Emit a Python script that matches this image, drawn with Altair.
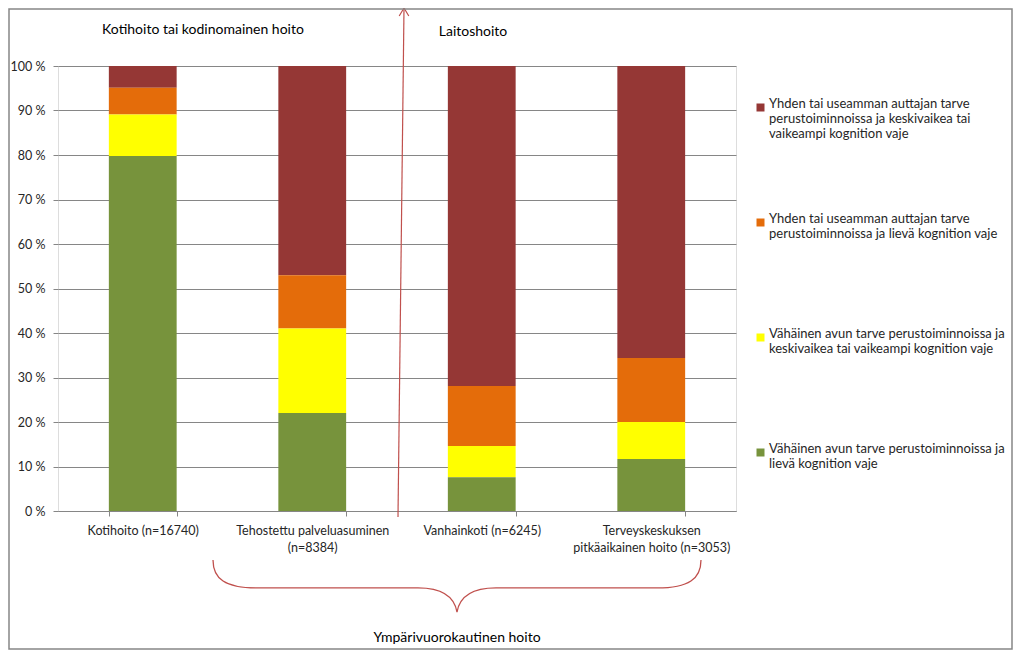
import altair as alt
import pandas as pd

categories = ["Kotihoito (n=16740)", "Tehostettu palveluasuminen (n=8384)",
              "Vanhainkoti (n=6245)", "Terveyskeskuksen pitkäaikainen hoito (n=3053)"]
cat_labels = [["Kotihoito (n=16740)"], ["Tehostettu palveluasuminen", "(n=8384)"],
              ["Vanhainkoti (n=6245)"], ["Terveyskeskuksen", "pitkäaikainen hoito (n=3053)"]]

series = [
    "Yhden tai useamman auttajan tarve|perustoiminnoissa ja keskivaikea tai|vaikeampi kognition vaje",
    "Yhden tai useamman auttajan tarve|perustoiminnoissa ja lievä kognition vaje",
    "Vähäinen avun tarve perustoiminnoissa ja|keskivaikea tai vaikeampi kognition vaje",
    "Vähäinen avun tarve perustoiminnoissa ja|lievä kognition vaje",
]
colors = ["#953735", "#E46C0A", "#FFFF00", "#77933C"]

# values per category, in series order (red, orange, yellow, green)
red_vals = [4.9, 47.0, 71.9, 65.6]
orange_vals = [6.0, 12.0, 13.5, 14.4]
yellow_vals = [9.3, 19.0, 7.0, 8.3]
green_vals = [79.8, 22.0, 7.6, 11.7]

titles = ["Kotihoito tai kodinomainen hoito", "Laitoshoito", "Ympärivuorokautinen hoito"]

rows = []
for s_i, vals in enumerate([red_vals, orange_vals, yellow_vals, green_vals]):
    for c_i, c in enumerate(categories):
        rows.append({"cat": c, "series": series[s_i], "value": vals[c_i], "order": 3 - s_i})
df = pd.DataFrame(rows)
one = pd.DataFrame({"k": [0]})

FONT = "Lato"
W, H = 678, 445

label_map = "{" + ",".join(
    "'" + c + "':[" + ",".join("'" + l + "'" for l in ls) + "]" for c, ls in zip(categories, cat_labels)
) + "}"

bars = alt.Chart(df).mark_bar().encode(
    x=alt.X("cat:N", sort=categories, title=None,
            scale=alt.Scale(paddingInner=0.6, paddingOuter=0.3),
            axis=alt.Axis(labelAngle=0, labelExpr=label_map + "[datum.label]",
                          tickBand="extent", tickSize=5, tickColor="#868686",
                          domainColor="#868686", labelFontSize=12.5, labelColor="#262626",
                          labelFont=FONT, labelPadding=8, labelLineHeight=17,
                          labelLimit=300, grid=False)),
    y=alt.Y("value:Q", stack="zero", title=None,
            scale=alt.Scale(domain=[0, 100], nice=False),
            axis=alt.Axis(values=list(range(0, 101, 10)), labelExpr="datum.value + ' %'",
                          grid=True, gridColor="#868686", domain=False, tickSize=5,
                          tickColor="#868686", labelFontSize=12.5, labelColor="#262626",
                          labelFont=FONT, labelPadding=8)),
    color=alt.Color("series:N", sort=series,
                    scale=alt.Scale(domain=series, range=colors),
                    legend=alt.Legend(title=None, orient="none", legendX=696, legendY=35,
                                      symbolType="square", symbolSize=64, symbolStrokeWidth=0,
                                      labelExpr="split(datum.label, '|')",
                                      labelFontSize=13, labelFont=FONT, labelColor="#262626",
                                      labelLimit=400, labelBaseline="alphabetic", labelOffset=2,
                                      gridAlign="all", rowPadding=71, padding=0)),
    order=alt.Order("order:Q"),
)

annot_color = "#C0504D"

arrow_line = alt.Chart(one).mark_rule(color=annot_color, strokeWidth=1.2).encode(
    x=alt.value(346), x2=alt.value(340), y=alt.value(-58), y2=alt.value(451))
arrow_head = alt.Chart(one).mark_point(
    shape="M-0.6,1 L0,0 L0.6,1", size=256, filled=False, color=annot_color,
    strokeWidth=1.2, opacity=1).encode(x=alt.value(346), y=alt.value(-58))

brace = alt.Chart(one).mark_point(
    shape="M-1,-0.107 C-1,-0.03 -0.95,0.008 -0.82,0.008 L-0.16,0.008 C-0.05,0.008 -0.01,0.05 0,0.107 "
          "C0.01,0.05 0.05,0.008 0.16,0.008 L0.82,0.008 C0.95,0.008 1,-0.03 1,-0.107",
    size=488 * 488, filled=False, color=annot_color, strokeWidth=1.3, opacity=1
).encode(x=alt.value(399), y=alt.value(520))

def title_layer(text, x, y):
    return alt.Chart(pd.DataFrame({"t": [text]})).mark_text(
        font=FONT, fontSize=14, color="#000000").encode(
        text="t:N", x=alt.value(x), y=alt.value(y))

t1 = title_layer(titles[0], 145, -36)
t2 = title_layer(titles[1], 415, -34)
t3 = title_layer(titles[2], 399, 572)

border = alt.Chart(one).mark_rect(filled=False, stroke="#868686", strokeWidth=1.5).encode(
    x=alt.value(-49), x2=alt.value(W + 276), y=alt.value(-57), y2=alt.value(H + 138))

chart = alt.layer(bars, arrow_line, arrow_head, brace, t1, t2, t3, border).properties(
    width=W, height=H,
    autosize=alt.AutoSizeParams(type="none"),
    padding={"left": 50, "top": 58, "right": 278, "bottom": 140},
).configure_view(stroke=None).configure(background="white")

chart.save("out.html", embed_options={"renderer": "svg", "actions": False})
